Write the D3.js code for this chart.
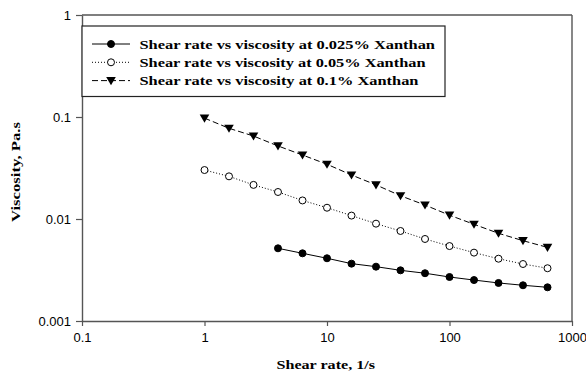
<!DOCTYPE html>
<html><head><meta charset="utf-8">
<script src="https://cdn.jsdelivr.net/npm/d3@7"></script>
<style>body{margin:0;background:#fff}svg{display:block}</style>
</head><body><svg id="c" width="586" height="372"></svg>
<script>
const shearRate = [1, 1.585, 2.512, 3.981, 6.31, 10, 15.85, 25.12, 39.81, 63.1, 100, 158.5, 251.2, 398.1, 631];
const shearRate025 = [3.981, 6.31, 10, 15.85, 25.12, 39.81, 63.1, 100, 158.5, 251.2, 398.1, 631];
const visc025 = [0.00516, 0.00461, 0.00412, 0.00365, 0.00341, 0.00314, 0.00294, 0.00270, 0.00252, 0.00236, 0.00224, 0.00214];
const visc05 = [0.0302, 0.0262, 0.0216, 0.0184, 0.0152, 0.0129, 0.0108, 0.0090, 0.00763, 0.00637, 0.00543, 0.00468, 0.00408, 0.00362, 0.00329];
const visc1 = [0.0975, 0.0775, 0.0651, 0.052, 0.0424, 0.0344, 0.027, 0.0216, 0.0169, 0.0137, 0.0109, 0.00887, 0.00724, 0.00613, 0.00527];
const xTicks = [0.1, 1, 10, 100, 1000];
const xTickLabels = ["0.1", "1", "10", "100", "1000"];
const yTicks = [0.001, 0.01, 0.1, 1];
const yTickLabels = ["0.001", "0.01", "0.1", "1"];
const legendLabels = ["Shear rate vs viscosity at 0.025% Xanthan", "Shear rate vs viscosity at 0.05% Xanthan", "Shear rate vs viscosity at 0.1% Xanthan"];

const svg = d3.select("#c");
const L = 82, R = 572, T = 15, B = 321;
const x = d3.scaleLog().domain([0.1, 1000]).range([L, R]);
const y = d3.scaleLog().domain([0.001, 1]).range([B, T]);
const axisColor = "#555";
const serif = "Liberation Serif, Times New Roman, serif";

const series = [
  {xs: shearRate025, ys: visc025, dash: null, marker: "filled"},
  {xs: shearRate, ys: visc05, dash: "1,2", marker: "open"},
  {xs: shearRate, ys: visc1, dash: "6,3", marker: "tri"}
];

// frame
svg.append("line").attr("x1", L).attr("x2", R).attr("y1", T).attr("y2", T).attr("stroke", axisColor).attr("stroke-width", 1.4);
svg.append("line").attr("x1", R).attr("x2", R).attr("y1", T).attr("y2", B).attr("stroke", axisColor).attr("stroke-width", 1.4);

const xAxis = d3.axisBottom(x).tickValues(xTicks).tickFormat((d, i) => xTickLabels[i]).tickSize(5).tickSizeOuter(0);
const gx = svg.append("g").attr("transform", `translate(0,${B})`).call(xAxis);
const yAxis = d3.axisLeft(y).tickValues(yTicks).tickFormat((d, i) => yTickLabels[i]).tickSize(6).tickSizeOuter(0);
const gy = svg.append("g").attr("transform", `translate(${L},0)`).call(yAxis);
[gx, gy].forEach(g => {
  g.select(".domain").attr("stroke", axisColor).attr("stroke-width", 1.4);
  g.selectAll(".tick line").attr("stroke", axisColor).attr("stroke-width", 1.2);
  g.selectAll(".tick text").attr("font-family", "Liberation Sans, Arial, sans-serif").attr("font-size", 13).attr("fill", "#000");
});
gx.selectAll(".tick text").attr("dy", 0).attr("y", 21);
gy.selectAll(".tick text").attr("x", -11).attr("dy", "0.36em");

// axis titles
svg.append("text").attr("x", 276.5).attr("y", 369)
  .attr("font-family", serif).attr("font-weight", "bold").attr("font-size", 13.5)
  .attr("textLength", 98.5).attr("lengthAdjust", "spacingAndGlyphs")
  .text("Shear rate, 1/s");
svg.append("text").attr("transform", `translate(19.5,222) rotate(-90)`)
  .attr("font-family", serif).attr("font-weight", "bold").attr("font-size", 13.5)
  .attr("textLength", 100).attr("lengthAdjust", "spacingAndGlyphs")
  .text("Viscosity, Pa.s");

function drawMarker(g, marker, cx, cy) {
  if (marker === "tri") {
    const s = 4.8;
    g.append("path").attr("d", `M${cx - s},${cy - s * 0.75}L${cx + s},${cy - s * 0.75}L${cx},${cy + s * 0.95}Z`).attr("fill", "#000");
  } else {
    g.append("circle").attr("cx", cx).attr("cy", cy).attr("r", 3.5)
      .attr("fill", marker === "filled" ? "#000" : "#fff").attr("stroke", "#000").attr("stroke-width", 1);
  }
}

const line = d3.line().x(d => x(d[0])).y(d => y(d[1]));
series.forEach(s => {
  const pts = s.xs.map((v, i) => [v, s.ys[i]]);
  svg.append("path").datum(pts).attr("d", line).attr("fill", "none").attr("stroke", "#000").attr("stroke-width", 1)
    .attr("stroke-dasharray", s.dash);
  const g = svg.append("g");
  pts.forEach(p => drawMarker(g, s.marker, x(p[0]), y(p[1])));
});

// legend
const legendWidths = [295.5, 286, 279];
const lg = svg.append("g");
lg.append("rect").attr("x", L).attr("y", 26).attr("width", 445 - L).attr("height", 70.5)
  .attr("fill", "#fff").attr("stroke", "#222").attr("stroke-width", 1.2);
legendLabels.forEach((t, i) => {
  const cy = 44 + i * 18.3;
  lg.append("line").attr("x1", 92).attr("x2", 130).attr("y1", cy).attr("y2", cy).attr("stroke", "#000").attr("stroke-width", 1)
    .attr("stroke-dasharray", series[i].dash);
  drawMarker(lg, series[i].marker, 111, cy);
  lg.append("text").attr("x", 139.5).attr("y", cy + 4.5).attr("font-family", serif)
    .attr("font-weight", "bold").attr("font-size", 13.5)
    .attr("textLength", legendWidths[i]).attr("lengthAdjust", "spacingAndGlyphs").text(t);
});
</script></body></html>
